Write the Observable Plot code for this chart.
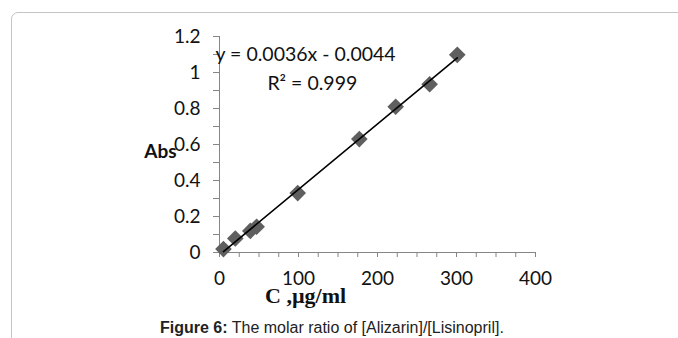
<!DOCTYPE html>
<html><head><meta charset="utf-8">
<script src="https://cdn.jsdelivr.net/npm/d3@7"></script>
<script src="https://cdn.jsdelivr.net/npm/@observablehq/plot@0.6"></script>
<style>
html,body{margin:0;padding:0;background:#fff;width:678px;height:338px;overflow:hidden;position:relative;}
#frame{position:absolute;left:11px;top:12px;width:760px;height:420px;border:1.5px solid #c4c4c4;border-radius:7px;box-sizing:border-box;}
#chart{position:absolute;left:0;top:0;}
#cap{position:absolute;left:160px;top:319px;white-space:nowrap;font-family:"Liberation Sans",Arial,sans-serif;font-size:16px;line-height:18px;color:#222;}
</style></head>
<body>
<div id="frame"></div>
<div id="chart"></div>
<div id="cap"><b>Figure 6:</b> The molar ratio of [Alizarin]/[Lisinopril].</div>
<script>
const conc = [5, 20, 39, 47, 99, 177, 223, 266, 301];
const absorb = [0.019, 0.078, 0.12, 0.143, 0.33, 0.63, 0.81, 0.935, 1.098];
const xMinorTicks = [0,25,50,75,100,125,150,175,200,225,250,275,300,325,350,375,400];
const xLabelTicks = [0,100,200,300,400];
const yMinorTicks = [0,0.1,0.2,0.3,0.4,0.5,0.6,0.7,0.8,0.9,1.0,1.1,1.2];
const yLabelTicks = [0,0.2,0.4,0.6,0.8,1,1.2];
const eqText = "y = 0.0036x - 0.0044";
const r2Text = "R² = 0.999";

const data = conc.map((c,i)=>({c, a: absorb[i]}));
const axisColor = "#868686";
const font = "Lato, 'Open Sans', sans-serif";

const chart = Plot.plot({
  width: 678, height: 300,
  marginLeft: 219, marginRight: 143, marginTop: 36, marginBottom: 48,
  style: {fontFamily: font, fontSize: "19px", color: "#111", background: "transparent", overflow: "visible"},
  x: {domain: [0, 400], label: null},
  y: {domain: [0, 1.2], label: null},
  marks: [
    Plot.ruleX([0], {stroke: axisColor, strokeWidth: 1}),
    Plot.ruleY([0], {stroke: axisColor, strokeWidth: 1}),
    Plot.axisX({ticks: xMinorTicks, tickFormat: () => "", tickSize: 5, stroke: axisColor, label: null}),
    Plot.axisX({ticks: xLabelTicks, tickSize: 0, tickPadding: 19, fill: "#111", fontSize: 19, label: null}),
    Plot.axisY({ticks: yMinorTicks, tickFormat: () => "", tickSize: 6, stroke: axisColor, label: null}),
    Plot.axisY({ticks: yLabelTicks, tickSize: 0, tickPadding: 19, fill: "#111", fontSize: 19, tickFormat: d => String(d), label: null}),
    Plot.dot(data, {x: "c", y: "a", symbol: "diamond2", r: 7.5, fill: "#5f5f5f", stroke: "none"}),
    Plot.linearRegressionY(data, {x: "c", y: "a", stroke: "#000", strokeWidth: 1.6, ci: 0}),
    Plot.text([eqText], {x: 109, y: 1.098, fontSize: 19.5, fill: "#111"}),
    Plot.text([r2Text], {x: 117.5, y: 0.94, fontSize: 19.5, fill: "#111"}),
    Plot.text(["Abs"], {x: 0, y: 0.6, dx: -59, dy: 7, fontSize: 19, fontWeight: "bold", fill: "#111"}),
    Plot.text(["C ,µg/ml"], {x: 109, y: 0, dy: 43, fontSize: 22, fontWeight: "bold", fontFamily: "'Liberation Serif', 'Times New Roman', serif", fill: "#111"})
  ]
});
document.getElementById("chart").appendChild(chart);
</script>
</body></html>
